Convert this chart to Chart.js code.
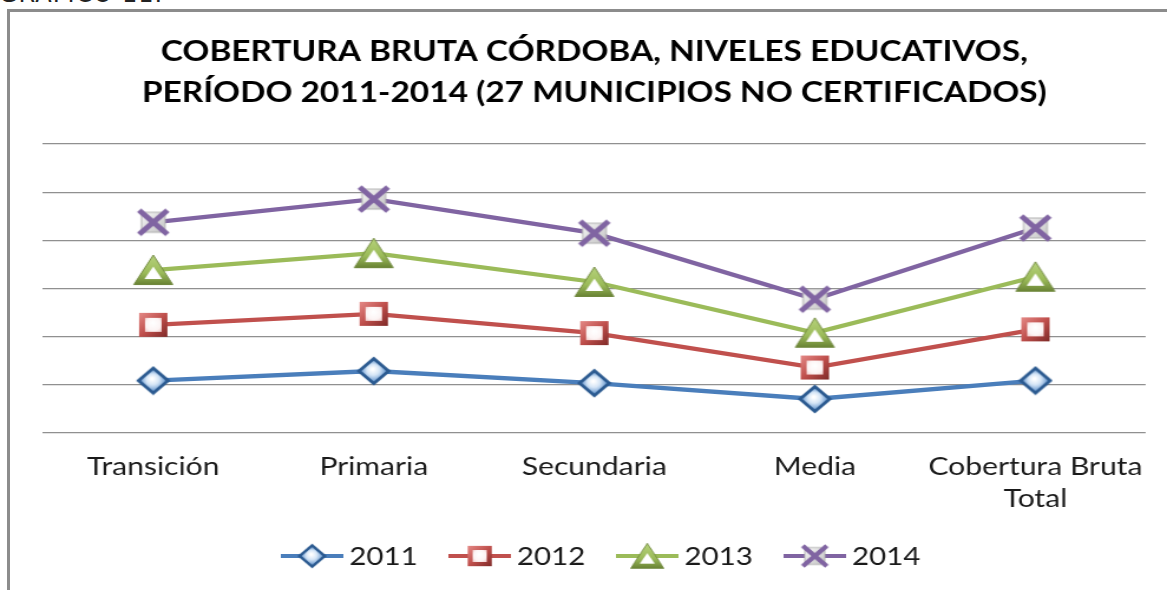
<!DOCTYPE html>
<html><head><meta charset="utf-8">
<script src="https://cdn.jsdelivr.net/npm/chart.js@4/dist/chart.umd.min.js"></script>
<style>
html,body{margin:0;padding:0;background:#fff;width:1167px;height:590px;overflow:hidden;position:relative}
#cap{position:absolute;left:-1px;top:-20px;font:24px 'DejaVu Sans';color:#222;letter-spacing:1px;white-space:nowrap}
#frame{position:absolute;left:7px;top:9px;width:1200px;height:620px;border-left:3px solid #8c8c8c;border-top:3px solid #8c8c8c}
#wrap{position:absolute;left:0;top:0;width:989px;height:590px;transform:scaleX(1.18);transform-origin:0 0}
</style></head><body>
<div id="cap">GRÁFICO 11.</div>
<div id="frame"></div>
<div id="wrap"><canvas id="c"></canvas></div>
<script>
// ---- data (gross coverage %, stacked as in the original Excel stacked-line chart) ----
const categories = ['Transición', 'Primaria', 'Secundaria', 'Media', ['Cobertura Bruta', 'Total']];
const seriesNames = ['2011', '2012', '2013', '2014'];
const v2011 = [108.8, 128.7, 103.6, 70.6, 108.8];
const v2012 = [115.8, 118.8, 103.8, 65.4, 106.4];
const v2013 = [113.8, 126.0, 106.2, 72.1, 109.2];
const v2014 = [99.2, 112.2, 101.3, 69.7, 101.3];
const titleLines = ['COBERTURA BRUTA CÓRDOBA, NIVELES EDUCATIVOS,', 'PERÍODO 2011-2014 (27 MUNICIPIOS NO CERTIFICADOS)'];

// ---- marker images ----
function mk(w, h, draw) { const c = document.createElement('canvas'); c.width = w; c.height = h; const g = c.getContext('2d'); g.translate(w / 2, h / 2); draw(g); return c; }
const mDiamond = mk(30, 30, g => {
  g.beginPath(); g.moveTo(0, -12.5); g.lineTo(12.5, 0); g.lineTo(0, 12.5); g.lineTo(-12.5, 0); g.closePath();
  const gr = g.createRadialGradient(-1, -2, 1, 0, 0, 12);
  gr.addColorStop(0, '#ffffff'); gr.addColorStop(0.4, '#d6e6f7'); gr.addColorStop(1, '#4f86c6');
  g.fillStyle = gr; g.fill();
  g.lineWidth = 3; g.strokeStyle = '#2b5a90'; g.lineJoin = 'miter'; g.stroke();
});
const mSquare = mk(30, 30, g => {
  const gr = g.createLinearGradient(-12, -12, 12, 12);
  gr.addColorStop(0, '#e58a87'); gr.addColorStop(0.5, '#c0504d'); gr.addColorStop(1, '#7f2a28');
  g.fillStyle = gr; g.fillRect(-12, -12, 24, 24);
  const gi = g.createRadialGradient(0, -2, 1, 0, 0, 10);
  gi.addColorStop(0, '#ffffff'); gi.addColorStop(0.6, '#fdf4f4'); gi.addColorStop(1, '#efc3c2');
  g.fillStyle = gi; g.fillRect(-7, -7, 14, 14);
});
const mTriangle = mk(36, 34, g => {
  g.beginPath(); g.moveTo(0, -15); g.lineTo(16.5, 14.5); g.lineTo(-16.5, 14.5); g.closePath();
  const gr = g.createLinearGradient(0, -14, 0, 14);
  gr.addColorStop(0, '#b5d17a'); gr.addColorStop(0.6, '#9bbb59'); gr.addColorStop(1, '#6b8536');
  g.fillStyle = gr; g.fill();
  g.lineWidth = 1; g.strokeStyle = '#71893f'; g.stroke();
  g.beginPath(); g.moveTo(0, -3.5); g.lineTo(7.5, 9); g.lineTo(-7.5, 9); g.closePath();
  g.fillStyle = '#ffffff'; g.fill();
});
const mCross = mk(30, 30, g => {
  const gb = g.createLinearGradient(-10, -10, 10, 10);
  gb.addColorStop(0, '#f7f7f7'); gb.addColorStop(1, '#c4c4c4');
  g.fillStyle = gb; g.fillRect(-10, -10, 20, 20);
  g.lineWidth = 1; g.strokeStyle = '#b0b0b0'; g.strokeRect(-10, -10, 20, 20);
  g.strokeStyle = '#8064a2'; g.lineWidth = 5; g.lineCap = 'butt';
  g.beginPath(); g.moveTo(-12, -12); g.lineTo(12, 12); g.moveTo(12, -12); g.lineTo(-12, 12); g.stroke();
});

const colors = ['#4a7ebb', '#c0504d', '#9bbb59', '#8064a2'];
const markers = [mDiamond, mSquare, mTriangle, mCross];
const values = [v2011, v2012, v2013, v2014];

const FONT = 'Lato';
const LEG_X = 238, LEG_Y = 556, LEG_LINE = 53;
const xlLegend = {
  id: 'xlLegend',
  afterDraw(chart) {
    const ctx = chart.ctx; ctx.save();
    ctx.font = '25px ' + FONT; ctx.textBaseline = 'middle'; ctx.textAlign = 'left';
    let x = LEG_X;
    chart.data.datasets.forEach(ds => {
      ctx.strokeStyle = ds.borderColor; ctx.lineWidth = 4;
      ctx.beginPath(); ctx.moveTo(x, LEG_Y); ctx.lineTo(x + LEG_LINE, LEG_Y); ctx.stroke();
      const im = ds.pointStyle, sc = 0.85;
      ctx.drawImage(im, x + LEG_LINE / 2 - im.width * sc / 2, LEG_Y - im.height * sc / 2, im.width * sc, im.height * sc);
      x += LEG_LINE + 5;
      ctx.fillStyle = '#1a1a1a'; ctx.fillText(ds.label, x, LEG_Y + 1);
      x += ctx.measureText(ds.label).width + 26;
    });
    ctx.restore();
  }
};

new Chart(document.getElementById('c'), {
  type: 'line',
  data: {
    labels: categories,
    datasets: seriesNames.map((n, i) => ({
      label: n, data: values[i], borderColor: colors[i], backgroundColor: colors[i],
      borderWidth: 4.3, pointStyle: markers[i], pointRadius: 13, pointHoverRadius: 13,
      tension: 0, fill: false
    }))
  },
  options: {
    responsive: true, maintainAspectRatio: false, animation: false,
    events: [],
    layout: { padding: { left: 36.4, right: 18.1, top: 0, bottom: 57 } },
    plugins: {
      legend: { display: false },
      tooltip: { enabled: false },
      title: {
        display: true, text: titleLines, color: '#000',
        font: { family: FONT, size: 28.3, weight: 'bold', lineHeight: 1.45 },
        padding: { top: 31, bottom: 31 }
      }
    },
    scales: {
      x: {
        offset: true,
        grid: { display: false, drawTicks: false },
        border: { display: false },
        ticks: { color: '#1a1a1a', padding: 18, maxRotation: 0, autoSkip: false, font: { family: FONT, size: 25.5, lineHeight: 1.255 } }
      },
      y: {
        stacked: true, min: 0, max: 600,
        grid: { color: '#909090', lineWidth: 1.3, drawTicks: false },
        border: { display: false },
        ticks: { display: false, stepSize: 100 }
      }
    }
  },
  plugins: [xlLegend]
});
</script>
</body></html>
